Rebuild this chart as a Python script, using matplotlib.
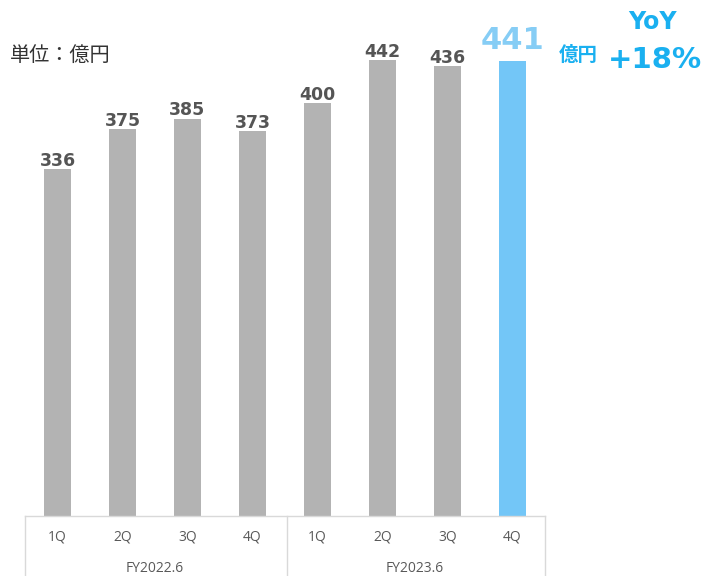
import matplotlib.pyplot as plt
from matplotlib.lines import Line2D

plt.rcParams['font.family'] = ['Noto Sans CJK JP', 'DejaVu Sans']

quarters = ["1Q", "2Q", "3Q", "4Q", "1Q", "2Q", "3Q", "4Q"]
years = ["FY2022.6", "FY2023.6"]
sales = [336, 375, 385, 373, 400, 442, 436, 441]

gray = "#b3b3b3"
blue = "#73c6f7"
W, H = 703, 576

fig = plt.figure(figsize=(W / 100, H / 100), dpi=100)
ax = fig.add_axes([25 / W, (H - 516) / H, 520 / W, 516 / H])

x = list(range(len(sales)))
colors = [gray] * (len(sales) - 1) + [blue]
bars = ax.bar(x, sales, width=0.42, color=colors)
ax.set_xlim(-0.5, len(sales) - 0.5)
ax.set_ylim(0, 500)
ax.axis("off")

for i, (b, v) in enumerate(zip(bars, sales)):
    last = i == len(sales) - 1
    ax.annotate(str(v), (b.get_x() + b.get_width() / 2, v),
                xytext=(0, 4 if last else -0.5), textcoords="offset points",
                ha="center", va="bottom", fontweight="bold",
                fontsize=22 if last else 12.5,
                color="#86cdf5" if last else "#555555",
                family="DejaVu Sans")

# category table under the bars
line_c = "#d9d9d9"
def fx(px):
    return px / W
def fy(py):
    return 1 - py / H

fig.add_artist(Line2D([fx(25), fx(545)], [fy(516), fy(516)], color=line_c, lw=1))
for px in (25, 287, 545):
    fig.add_artist(Line2D([fx(px), fx(px)], [fy(516), fy(576)], color=line_c, lw=1))

for i, q in enumerate(quarters):
    xf = fx(25 + 65 * (i + 0.5))
    fig.text(xf, fy(537), q, ha="center", va="center", fontsize=10,
             color="#595959", family="Open Sans")
for j, y in enumerate(years):
    xf = fx(25 + 260 * (j + 0.5))
    fig.text(xf, fy(568), y, ha="center", va="center", fontsize=10,
             color="#595959", family="Open Sans")

fig.text(fx(10), fy(55), "単位：億円", ha="left", va="center", fontsize=14.5,
         color="#333333")
fig.text(fx(578), fy(55), "億円", ha="center", va="center", fontsize=14,
         fontweight="bold", color="#1ab0f0")
fig.text(fx(653), fy(22), "YoY", ha="center", va="center", fontsize=17,
         fontweight="bold", color="#1ab0f0", family="DejaVu Sans")
fig.text(fx(655), fy(60), "+18%", ha="center", va="center", fontsize=21,
         fontweight="bold", color="#1ab0f0", family="DejaVu Sans")

fig.savefig("out.png", dpi=100)
